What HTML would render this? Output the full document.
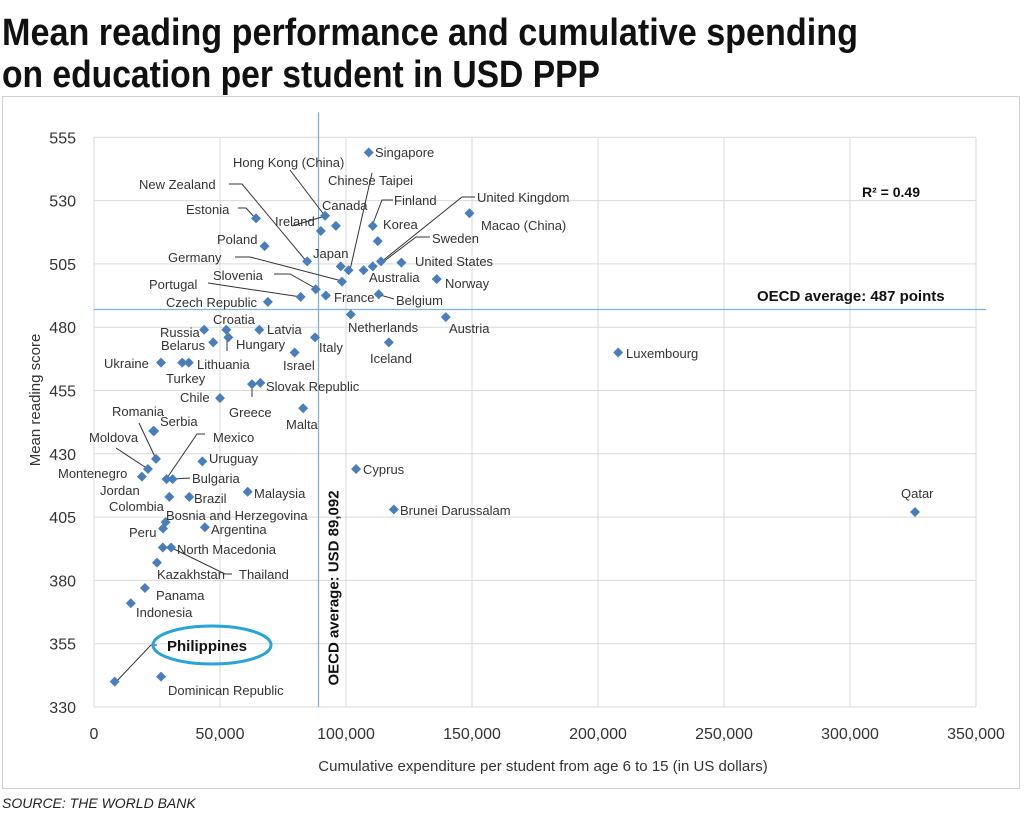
<!DOCTYPE html>
<html><head><meta charset="utf-8"><style>
body{margin:0;background:#fff;width:1024px;height:816px;overflow:hidden}
svg{display:block}
text{font-family:"Liberation Sans",sans-serif;fill:#333}
</style></head><body>
<svg id="chart" width="1024" height="816" viewBox="0 0 1024 816" xmlns="http://www.w3.org/2000/svg">
<text x="2" y="45" font-family="Liberation Sans Narrow, Liberation Sans, sans-serif" font-weight="bold" font-size="38" textLength="856" lengthAdjust="spacingAndGlyphs" style="fill:#111">Mean reading performance and cumulative spending</text>
<text x="2" y="87" font-family="Liberation Sans Narrow, Liberation Sans, sans-serif" font-weight="bold" font-size="38" textLength="598" lengthAdjust="spacingAndGlyphs" style="fill:#111">on education per student in USD PPP</text>
<rect x="2.5" y="96.5" width="1017" height="692" fill="none" stroke="#d0d0d0"/>
<g id="grid"></g><g id="axes"></g><g id="leaders" stroke="#333" stroke-width="1" fill="none"></g><g id="trend"></g><g id="marks"></g><g id="labels"></g>
<text x="2" y="808" font-style="italic" font-size="14" font-family="Liberation Sans Narrow, Liberation Sans, sans-serif" style="fill:#222">SOURCE: THE WORLD BANK</text>
</svg>
<script>
const countries=["Singapore","Canada","Chinese Taipei","Estonia","Ireland","Korea","Finland","Macao (China)","Poland","New Zealand","Japan","Hong Kong (China)","Australia","Sweden","United Kingdom","United States","Norway","Germany","Slovenia","Portugal","France","Belgium","Czech Republic","Netherlands","Austria","Russia","Croatia","Latvia","Hungary","Belarus","Italy","Israel","Iceland","Ukraine","Lithuania","Turkey","Slovak Republic","Chile","Malta","Serbia","Romania","Uruguay","Cyprus","Moldova","Montenegro","Jordan","Bulgaria","Mexico","Malaysia","Brazil","Colombia","Brunei Darussalam","Qatar","Luxembourg","Bosnia and Herzegovina","Argentina","Peru","North Macedonia","Thailand","Kazakhstan","Panama","Indonesia","Dominican Republic","Philippines","Greece"];
const spending=[109000,91700,96000,64300,90000,110600,112600,149000,67700,84600,97900,101000,107000,110600,113900,122000,136000,98400,88000,82000,92000,113000,69000,101900,139600,43700,52500,65600,53300,47300,87700,79600,117000,26600,37600,35000,66000,50000,83000,23900,23500,43000,104000,24600,21400,19000,28800,31200,61000,37800,29900,119000,325800,208000,28400,44000,27400,27300,30600,25000,20200,14600,26600,8200,62700];
const scores=[549,524,520,523,518,520,514,525,512,506,504,502.5,502.5,504,506,505.5,499,498,495,492,492.5,493,490,485,484,479,479,479,476,474,476,470,474,466,466,466,458,452,448,439,439,427,424,428,424,421,420,420,415,413,413,408,407,470,403,401,400.5,393,393,387,377,371,342,340,457.5];
const xTicks=[0,50000,100000,150000,200000,250000,300000,350000];
const yTicks=[330,355,380,405,430,455,480,505,530,555];
const oecdSpending=89092, oecdScore=487;
const trendA=365-48.1*Math.log(8.2), trendB=48.1, trendRange=[8200,325800];
const NS="http://www.w3.org/2000/svg";
const X0=94,X1=976,Y0=707,Y1=137.3;
const xs=v=>X0+v/350000*(X1-X0);
const ys=v=>Y0-(v-330)/225*(Y0-Y1);
function el(tag,attrs,parent,txt){const e=document.createElementNS(NS,tag);for(const k in attrs)e.setAttribute(k,attrs[k]);if(txt!==undefined)e.textContent=txt;parent.appendChild(e);return e;}
const grid=document.getElementById('grid'),axes=document.getElementById('axes');
xTicks.forEach(t=>{const l=el('line',{x1:xs(t),x2:xs(t),y1:Y1,y2:Y0,stroke:'#d9d9d9'},grid);


const tx=el('text',{x:xs(t),y:739,'text-anchor':'middle','font-size':16},axes,t.toLocaleString('en-US'));

});
yTicks.forEach(t=>{const l=el('line',{x1:X0,x2:X1,y1:ys(t),y2:ys(t),stroke:'#d9d9d9'},grid);


const tx=el('text',{x:76,y:ys(t)+6,'text-anchor':'end','font-size':16},axes,t);

});
let t1=el('text',{x:543,y:771,'text-anchor':'middle','font-size':15},axes,'Cumulative expenditure per student from age 6 to 15 (in US dollars)');


let t2=el('text',{x:0,y:0,'text-anchor':'middle','font-size':15,transform:'translate(40,400) rotate(-90)'},axes,'Mean reading score');


let ov=el('line',{x1:xs(oecdSpending),x2:xs(oecdSpending),y1:Y1-25,y2:Y0,stroke:'#7fb2dc','stroke-width':1.3},axes);


let oh=el('line',{x1:X0,x2:X1+10,y1:ys(oecdScore),y2:ys(oecdScore),stroke:'#7fb2dc','stroke-width':1.3},axes);


let ol=el('text',{x:0,y:0,'text-anchor':'middle','font-size':15,'font-weight':'bold',transform:'translate('+(xs(oecdSpending)+20)+',588) rotate(-90)',style:'fill:#111'},axes,'OECD average: USD 89,092');


let ol2=el('text',{x:757,y:301,'font-size':15,'font-weight':'bold',style:'fill:#111'},axes,'OECD average: 487 points');


// trend
let d='';for(let i=0;i<=80;i++){const v=trendRange[0]*Math.pow(trendRange[1]/trendRange[0],i/80);d+=(i?'L':'M')+xs(v).toFixed(1)+','+ys(trendA+trendB*Math.log(v)).toFixed(1);}
let tr=el('path',{d:d,fill:'none',stroke:'#222','stroke-width':1.1},document.getElementById('trend'));


let r2=el('text',{x:862,y:197,'font-size':14,'font-weight':'bold',style:'fill:#111'},document.getElementById('trend'),'R² = 0.49');


const marks=document.getElementById('marks');
countries.forEach((c,i)=>{const x=xs(spending[i]),y=ys(scores[i]);
const p=el('path',{d:`M${x},${y-5}L${x+5},${y}L${x},${y+5}L${x-5},${y}Z`,fill:'#4a7ebb'},marks);

});
// labels (layout positions)
const lab=[["Singapore",375,157],["Hong Kong (China)",233,167],["Chinese Taipei",328,185],["New Zealand",139,189],["Finland",394,205],["United Kingdom",477,202],["Estonia",186,214],["Canada",322,210],["Ireland",275,226],["Korea",383,229],["Macao (China)",481,230],["Poland",217,244],["Sweden",432,243],["Japan",313,258],["Germany",168,262],["United States",415,266],["Slovenia",213,280],["Australia",369,282],["Norway",445,288],["Portugal",149,289],["France",334,302],["Belgium",396,305],["Czech Republic",166,307],["Croatia",213,324],["Netherlands",348,332],["Austria",449,333],["Russia",160,337],["Latvia",267,334],["Belarus",161,350],["Hungary",236,349],["Italy",319,352],["Ukraine",104,368],["Lithuania",197,369],["Israel",283,370],["Iceland",370,363],["Turkey",166,383],["Slovak Republic",266,391],["Chile",180,402],["Greece",229,417],["Malta",286,429],["Romania",112,416],["Luxembourg",626,358],["Serbia",160,426],["Moldova",89,442],["Mexico",213,442],["Uruguay",209,463],["Montenegro",58,478],["Bulgaria",192,483],["Jordan",100,495],["Malaysia",254,498],["Colombia",109,511],["Brazil",194,503],["Bosnia and Herzegovina",166,520],["Argentina",211,534],["Peru",129,537],["North Macedonia",177,554],["Kazakhstan",157,579],["Thailand",239,579],["Panama",156,600],["Indonesia",136,617],["Dominican Republic",168,695],["Brunei Darussalam",400,515],["Cyprus",363,474],["Qatar",901,498]];
const lg=document.getElementById('labels');
lab.forEach(l=>{const t=el('text',{x:l[1],y:l[2],'font-size':13},lg,l[0]);

});
const ph=el('text',{x:167,y:651,'font-size':15,'font-weight':'bold',style:'fill:#111'},lg,'Philippines');


const ell=el('ellipse',{cx:212,cy:645,rx:59,ry:19,fill:'none',stroke:'#29a3d8','stroke-width':3},lg);


const leaders=["M229,184L242,184L307,262","M393,200L382,200L372,226","M475,197L462,197L381,262","M238,208L246,208L256,219","M292,226L325,216","M430,237L416,237L383,262","M235,257L250,257L342,281","M274,274L290,274L315,288","M208,283L301,297","M394,299L380,295","M227,340L227,351","M252,384L252,397","M139,423L156,459","M116,448L148,469","M205,434L197,434L167,478","M190,478L173,479","M172,548L225,574L232,574","M115,683L151,645L157,645","M372,173L350,270","M290,170L325,216"];
leaders.forEach(dd=>{const p=el('path',{d:dd},document.getElementById('leaders'));

});
</script>
</body></html>
